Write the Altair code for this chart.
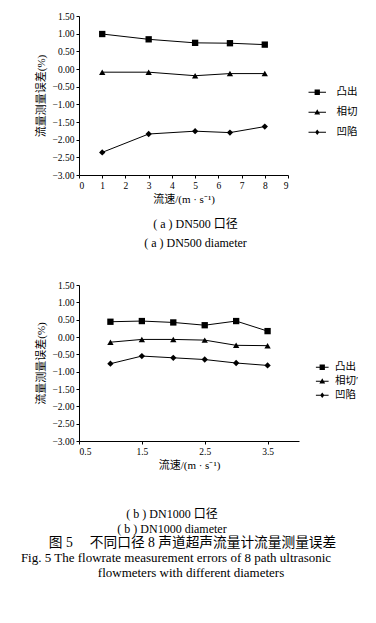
import altair as alt
import pandas as pd

FONT = "Liberation Serif, Noto Sans CJK SC"

series = ["凸出", "相切", "凹陷"]
series_b = ["凸出", "相切′", "凹陷"]

# (a) DN500
a_x = [1.0, 3.0, 5.0, 6.5, 8.0]
a_convex = [0.99, 0.84, 0.74, 0.73, 0.69]
a_tangent = [-0.09, -0.09, -0.19, -0.13, -0.13]
a_concave = [-2.36, -1.84, -1.76, -1.80, -1.63]

# (b) DN1000
b_x = [1.0, 1.5, 2.0, 2.5, 3.0, 3.5]
b_convex = [0.44, 0.46, 0.42, 0.34, 0.46, 0.17]
b_tangent = [-0.15, -0.07, -0.07, -0.09, -0.24, -0.25]
b_concave = [-0.77, -0.55, -0.60, -0.65, -0.75, -0.82]

y_ticks = [-3.0, -2.5, -2.0, -1.5, -1.0, -0.5, 0.0, 0.5, 1.0, 1.5]
a_xticks = [0, 1, 2, 3, 4, 5, 6, 7, 8, 9]
b_xticks = [0.5, 1.5, 2.5, 3.5]

cap_a = ["( a ) DN500 口径", "( a ) DN500 diameter"]
cap_b = ["( b ) DN1000 口径", "( b ) DN1000 diameter"]
fig_cn = "图 5　 不同口径 8 声道超声流量计流量测量误差"
fig_en1 = "Fig. 5 The flowrate measurement errors of 8 path ultrasonic"
fig_en2 = "flowmeters with different diameters"


def make_df(xs, cols, names):
    rows = []
    for name, vals in zip(names, cols):
        for i, (x, v) in enumerate(zip(xs, vals)):
            rows.append({"x": x, "y": v, "series": name, "order": i})
    return pd.DataFrame(rows)


df_a = make_df(a_x, [a_convex, a_tangent, a_concave], series)
df_b = make_df(b_x, [b_convex, b_tangent, b_concave], series_b)


def legend_paths(stub, t=0.18):
    bar = f"M-{stub},-{t}H{stub}V{t}H-{stub}Z"
    sq = bar + "M-1,-1H1V1H-1Z"
    tri = bar + "M0,-1.1L1.1,0.85H-1.1Z"
    dia = bar + "M0,-1L0.8,0L0,1L-0.8,0Z"
    return [sq, tri, dia]


def panel(df, names, xdom, xticks, xfmt, w, h, lx, ly, rowpad, stub, loff,
          caption, cap_dx, cap_lh, cap_off):
    x_enc = alt.X("x:Q", scale=alt.Scale(domain=xdom, nice=False, zero=False),
                  axis=alt.Axis(values=xticks, tickCount=len(xticks), format=xfmt,
                                title="流速/(m · s⁻¹)", labelOverlap=False,
                                titleFont=FONT, titleFontSize=11, titleFontWeight="normal",
                                titlePadding=4, labelPadding=2))
    y_enc = alt.Y("y:Q", scale=alt.Scale(domain=[-3, 1.5], nice=False, zero=False),
                  axis=alt.Axis(values=y_ticks, tickCount=len(y_ticks), format=".2f",
                                title="流量测量误差(%)", labelOverlap=False,
                                titleFont=FONT, titleFontSize=11, titleFontWeight="normal",
                                titlePadding=6, labelPadding=2))
    lines = alt.Chart(df).mark_line(color="black", strokeWidth=1).encode(
        x=x_enc, y=y_enc, detail="series:N", order="order:Q")
    pts = alt.Chart(df).mark_point(filled=True, color="black", opacity=1).encode(
        x="x:Q", y="y:Q",
        shape=alt.Shape("series:N",
                        scale=alt.Scale(domain=names, range=["square", "triangle-up", "diamond"]),
                        legend=None),
        size=alt.value(40))
    leg = alt.Chart(df).mark_point(filled=True, color="black", opacity=0).encode(
        x="x:Q", y="y:Q",
        shape=alt.Shape("series:N",
                        scale=alt.Scale(domain=names, range=legend_paths(stub)),
                        legend=alt.Legend(
                            title=None, orient="none", legendX=lx, legendY=ly,
                            labelFont=FONT, labelFontSize=10.5, labelColor="black",
                            symbolSize=28, labelOffset=loff, rowPadding=rowpad,
                            symbolFillColor="black", symbolStrokeColor="black",
                            symbolStrokeWidth=0, symbolOpacity=1)),
        size=alt.value(28))
    return alt.layer(lines, pts, leg).resolve_scale(shape="independent").properties(
        width=w, height=h,
        title=alt.TitleParams(text=caption, orient="bottom", frame="group", anchor="middle",
                              font=FONT, fontSize=12, fontWeight="normal", lineHeight=cap_lh,
                              offset=cap_off, dx=cap_dx, color="black"))


def caption_line(text, size, dx, w):
    return alt.Chart(pd.DataFrame({"t": [""]})).mark_text(size=1).encode(
        text="t:N").properties(
        width=w, height=1,
        title=alt.TitleParams(text=text, orient="top", frame="group", anchor="middle",
                              font=FONT, fontSize=size, fontWeight="normal", offset=0,
                              dx=dx, color="black"))


top = panel(df_a, series, [0, 9], a_xticks, "d", 209, 159, 233, 71, 9, 3.3, 14,
            cap_a, 12, 19, 14)
bottom = panel(df_b, series_b, [0.5, 4.0], b_xticks, ".1f", 220, 156, 238, 77, 3, 2.4, 7.5,
               cap_b, -17, 15, 38)

captions = alt.vconcat(
    caption_line(fig_cn, 13.7, 3.5, 220),
    caption_line(fig_en1, 13, -13, 220),
    caption_line(fig_en2, 13, 2, 220),
    spacing=0,
)

chart = alt.vconcat(
    top,
    alt.vconcat(bottom, captions, spacing=0),
    spacing=31,
).resolve_scale(shape="independent").properties(
    padding={"left": 20, "top": 11, "right": 0, "bottom": 0},
).configure_view(stroke=None).configure_axis(
    grid=False, domainColor="black", domainWidth=1, tickColor="black", tickSize=3,
    labelFont=FONT, labelFontSize=9.5, labelColor="black", titleColor="black",
    labelOverlap=False,
)

chart.save("out.html", embed_options={"renderer": "svg", "actions": False})
